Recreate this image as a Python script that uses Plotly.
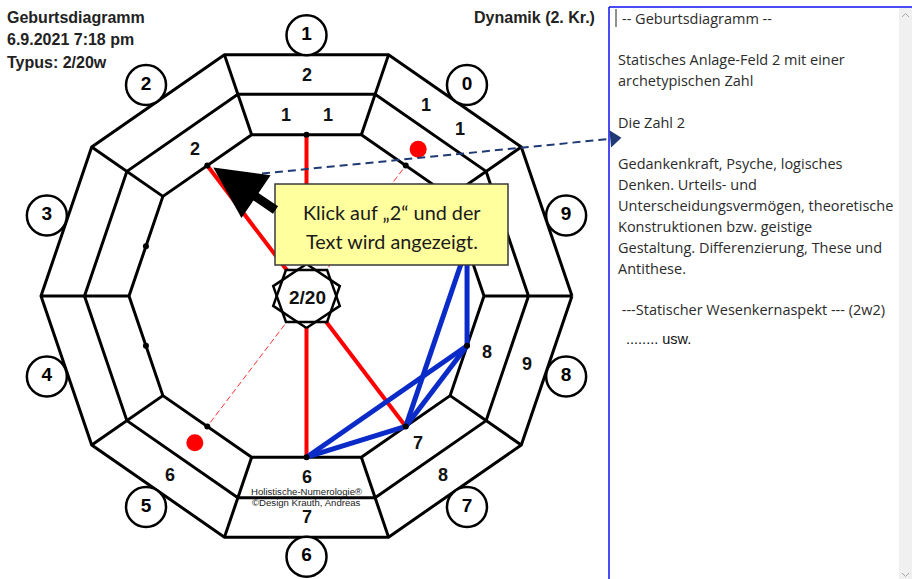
import numpy as np
import plotly.graph_objects as go

W, H = 912, 579

# ---------------- data ----------------
sector_numbers = [1, 2, 3, 4, 5, 6, 7, 8, 9, 0]          # circled numbers, clockwise from top
outer_band_labels = ["2", "", "", "", "6", "7", "8", "9", "", "1 1"]
inner_band_labels = ["1 1", "2", "", "", "", "6", "7", "8", "", ""]
red_dot_sectors = [0, 5]
thick_red_sectors = [1, 2, 6, 7]
thin_red_sectors = [0, 5]
blue_links = [(6, 7), (6, 8), (7, 8), (7, 9), (8, 9)]
center_label = "2/20"
title_lines = ["Geburtsdiagramm", "6.9.2021 7:18 pm", "Typus: 2/20w"]
right_title = "Dynamik (2. Kr.)"
box_lines = ["Klick auf \u201e2\u201c und der", "Text wird angezeigt."]
credit_lines = ["Holistische-Numerologie\u00ae", "\u00a9Design Krauth, Andreas"]
panel_lines = [
    "-- Geburtsdiagramm --", "",
    "Statisches Anlage-Feld 2 mit einer", "archetypischen Zahl", "",
    "Die Zahl 2", "",
    "Gedankenkraft, Psyche, logisches", "Denken. Urteils- und",
    "Unterscheidungsverm\u00f6gen, theoretische", "Konstruktionen bzw. geistige",
    "Gestaltung. Differenzierung, These und", "Antithese.", "",
    " ---Statischer Wesenkernaspekt --- (2w2)",
]
panel_tail = "........ usw."

# ---------------- geometry ----------------
CX, CY, SY = 306.5, 296.0, 0.955
R_IN, R_MID, R_OUT, R_NUM = 177.5, 222.0, 265.5, 273.0
COS18 = np.cos(np.radians(18))


def pt(r, ang):
    a = np.radians(ang)
    return CX + r * np.cos(a), CY - r * SY * np.sin(a)


def sec_angle(n):
    return 90 + 36 * ((n - 1) % 10)


def sec_angle_idx(i):
    return 90 + 36 * i


def mid(n):
    return pt(R_IN * COS18, sec_angle(n))


ARIAL = "Liberation Sans, Arial"
fig = go.Figure()

# decagons + radial spokes
xs, ys = [], []
for R in (R_IN, R_MID, R_OUT):
    for k in range(11):
        x, y = pt(R, 36 * k)
        xs.append(x); ys.append(y)
    xs.append(None); ys.append(None)
for k in range(10):
    x0, y0 = pt(R_IN, 36 * k)
    x1, y1 = pt(R_OUT, 36 * k)
    xs += [x0, x1, None]; ys += [y0, y1, None]
fig.add_trace(go.Scatter(x=xs, y=ys, mode="lines", line=dict(color="black", width=3),
                         hoverinfo="skip"))

# thin red dashed lines
xs, ys = [], []
for n in thin_red_sectors:
    x, y = mid(n)
    xs += [CX, x, None]; ys += [CY, y, None]
fig.add_trace(go.Scatter(x=xs, y=ys, mode="lines",
                         line=dict(color="#FF3030", width=1, dash="6px,3px"), hoverinfo="skip"))
# thick red lines
xs, ys = [], []
for n in thick_red_sectors:
    x, y = mid(n)
    xs += [CX, x, None]; ys += [CY, y, None]
fig.add_trace(go.Scatter(x=xs, y=ys, mode="lines", line=dict(color="#FF0000", width=4),
                         hoverinfo="skip"))
# blue links
xs, ys = [], []
for a, b in blue_links:
    xa, ya = mid(a); xb, yb = mid(b)
    xs += [xa, xb, None]; ys += [ya, yb, None]
fig.add_trace(go.Scatter(x=xs, y=ys, mode="lines", line=dict(color="#0A2BC8", width=5),
                         hoverinfo="skip"))

# small black dots at edge midpoints
mx = [mid(n)[0] for n in sector_numbers]
my = [mid(n)[1] for n in sector_numbers]
fig.add_trace(go.Scatter(x=mx, y=my, mode="markers", marker=dict(color="black", size=6),
                         hoverinfo="skip"))

# red dots in inner band
r_inband = (R_IN + R_MID) / 2 * COS18
r_outband = (R_MID + R_OUT) / 2 * COS18
rdx = [pt(r_inband, sec_angle(n))[0] for n in red_dot_sectors]
rdy = [pt(r_inband, sec_angle(n))[1] for n in red_dot_sectors]
fig.add_trace(go.Scatter(x=rdx, y=rdy, mode="markers", marker=dict(color="#FF0000", size=17),
                         hoverinfo="skip"))

# star (two pentagons)
star_rx, star_ry = 35, 32
pents = []
for off in (90, 270):
    px, py = [], []
    for k in range(6):
        a = np.radians(off + 72 * k)
        px.append(CX + star_rx * np.cos(a)); py.append(CY - star_ry * np.sin(a))
    pents.append((px, py))
for px, py in pents:
    fig.add_trace(go.Scatter(x=px, y=py, mode="lines", fill="toself", fillcolor="white",
                             line=dict(width=0, color="white"), hoverinfo="skip"))
for px, py in pents:
    fig.add_trace(go.Scatter(x=px, y=py, mode="lines", line=dict(color="black", width=2.5),
                             hoverinfo="skip"))

# circled numbers
cx_ = [pt(R_NUM, sec_angle(n))[0] for n in sector_numbers]
cy_ = [pt(R_NUM, sec_angle(n))[1] for n in sector_numbers]
fig.add_trace(go.Scatter(x=cx_, y=cy_, mode="markers+text",
                         marker=dict(size=40, color="white", line=dict(color="black", width=2.5)),
                         text=[f"<b>{n}</b>" for n in sector_numbers], textposition="middle center",
                         textfont=dict(family=ARIAL, size=19, color="black"), hoverinfo="skip"))

# dashed navy pointer line with arrowhead
p0 = (262, 173.5)
p1 = (614, 138.5)
fig.add_trace(go.Scatter(x=[p0[0], p1[0]], y=[p0[1], p1[1]], mode="lines",
                         line=dict(color="#1F3A75", width=2, dash="8px,5px"), hoverinfo="skip"))
ang = np.degrees(np.arctan2(p1[1] - p0[1], p1[0] - p0[0]))
fig.add_trace(go.Scatter(x=[p1[0]], y=[p1[1]], mode="markers",
                         marker=dict(symbol="triangle-right", size=15, angle=ang, color="#1F3A75"),
                         hoverinfo="skip"))

# band labels
def band_text(label, r, ang):
    parts = label.split()
    if not parts:
        return
    a = np.radians(ang)
    tx, ty = np.sin(a), np.cos(a) * SY  # tangent (clockwise) in screen coords
    n = len(parts)
    for j, p in enumerate(parts):
        off = (j - (n - 1) / 2) * 42
        x, y = pt(r, ang)
        fig.add_annotation(x=x + off * tx, y=y + off * ty, text=f"<b>{p}</b>", showarrow=False,
                           font=dict(family=ARIAL, size=18, color="#111"))


for i, lab in enumerate(outer_band_labels):
    band_text(lab, r_outband, sec_angle_idx(i))
for i, lab in enumerate(inner_band_labels):
    band_text(lab, r_inband, sec_angle_idx(i))

# center label
fig.add_annotation(x=CX + 0.5, y=CY + 1, text=f"<b>{center_label}</b>", showarrow=False,
                   font=dict(family=ARIAL, size=19, color="#111"))

# credits
for j, t in enumerate(credit_lines):
    fig.add_annotation(x=CX, y=491 + 11 * j, text=t, showarrow=False,
                       font=dict(family=ARIAL, size=9.6, color="#222"))

# titles
for j, t in enumerate(title_lines):
    fig.add_annotation(x=5, y=17 + 22.5 * j, text=f"<b>{t}</b>", showarrow=False,
                       xanchor="left", font=dict(family=ARIAL, size=16, color="#222"))
fig.add_annotation(x=597, y=17, text=f"<b>{right_title}</b>", showarrow=False,
                   xanchor="right", font=dict(family=ARIAL, size=16, color="#222"))

# yellow callout box
fig.add_shape(type="rect", x0=275, y0=184, x1=508, y1=265, fillcolor="#FFFF9E",
              line=dict(color="#3a3a3a", width=1.5), layer="above")
for j, t in enumerate(box_lines):
    fig.add_annotation(x=391.5, y=212 + 29 * j, text=t, showarrow=False,
                       font=dict(family="Lato, Carlito, Calibri", size=19.8, color="#1a1a1a"))

# black arrow to field 2
tip = mid(2)
fig.add_annotation(x=tip[0] + 6, y=tip[1] + 2, ax=277, ay=211, xref="x", yref="y",
                   axref="x", ayref="y", text="", showarrow=True, arrowhead=2, arrowsize=1.15,
                   arrowwidth=9, arrowcolor="black")

# right text panel
fig.add_shape(type="line", x0=609, y0=7, x1=912, y1=7, line=dict(color="#1010F0", width=1.5), layer="below")
fig.add_shape(type="line", x0=609, y0=7, x1=609, y1=579, line=dict(color="#1010F0", width=1.5), layer="below")
fig.add_shape(type="rect", x0=899, y0=8, x1=912, y1=579, fillcolor="#F0F0F0", line=dict(width=0), layer="below")
fig.add_shape(type="line", x0=616, y0=9, x1=616, y1=27, line=dict(color="#222", width=1))
fig.add_trace(go.Scatter(x=[902, 905.5, 909, None, 902, 905.5, 909],
                         y=[17, 13.5, 17, None, 573, 576.5, 573], mode="lines",
                         line=dict(color="#A8A8A8", width=1), hoverinfo="skip"))
for j, t in enumerate(panel_lines):
    if not t:
        continue
    x0 = 620 if j == 0 else 616
    fig.add_annotation(x=x0, y=18 + 20.85 * j, text=t, showarrow=False, xanchor="left",
                       font=dict(family="Open Sans, Noto Sans", size=14.5, color="#2b2b2b"))
fig.add_annotation(x=624, y=339, text=panel_tail, showarrow=False,
                   xanchor="left", font=dict(family=ARIAL, size=14.5, color="#111"))

fig.update_layout(width=W, height=H, margin=dict(l=0, r=0, t=0, b=0),
                  paper_bgcolor="white", plot_bgcolor="white", showlegend=False,
                  xaxis=dict(range=[0, W], visible=False, fixedrange=True),
                  yaxis=dict(range=[H, 0], visible=False, fixedrange=True))
fig.write_html("out.html", config={"displayModeBar": False},
               post_script="document.body.style.margin='0';document.body.style.overflow='hidden';")
